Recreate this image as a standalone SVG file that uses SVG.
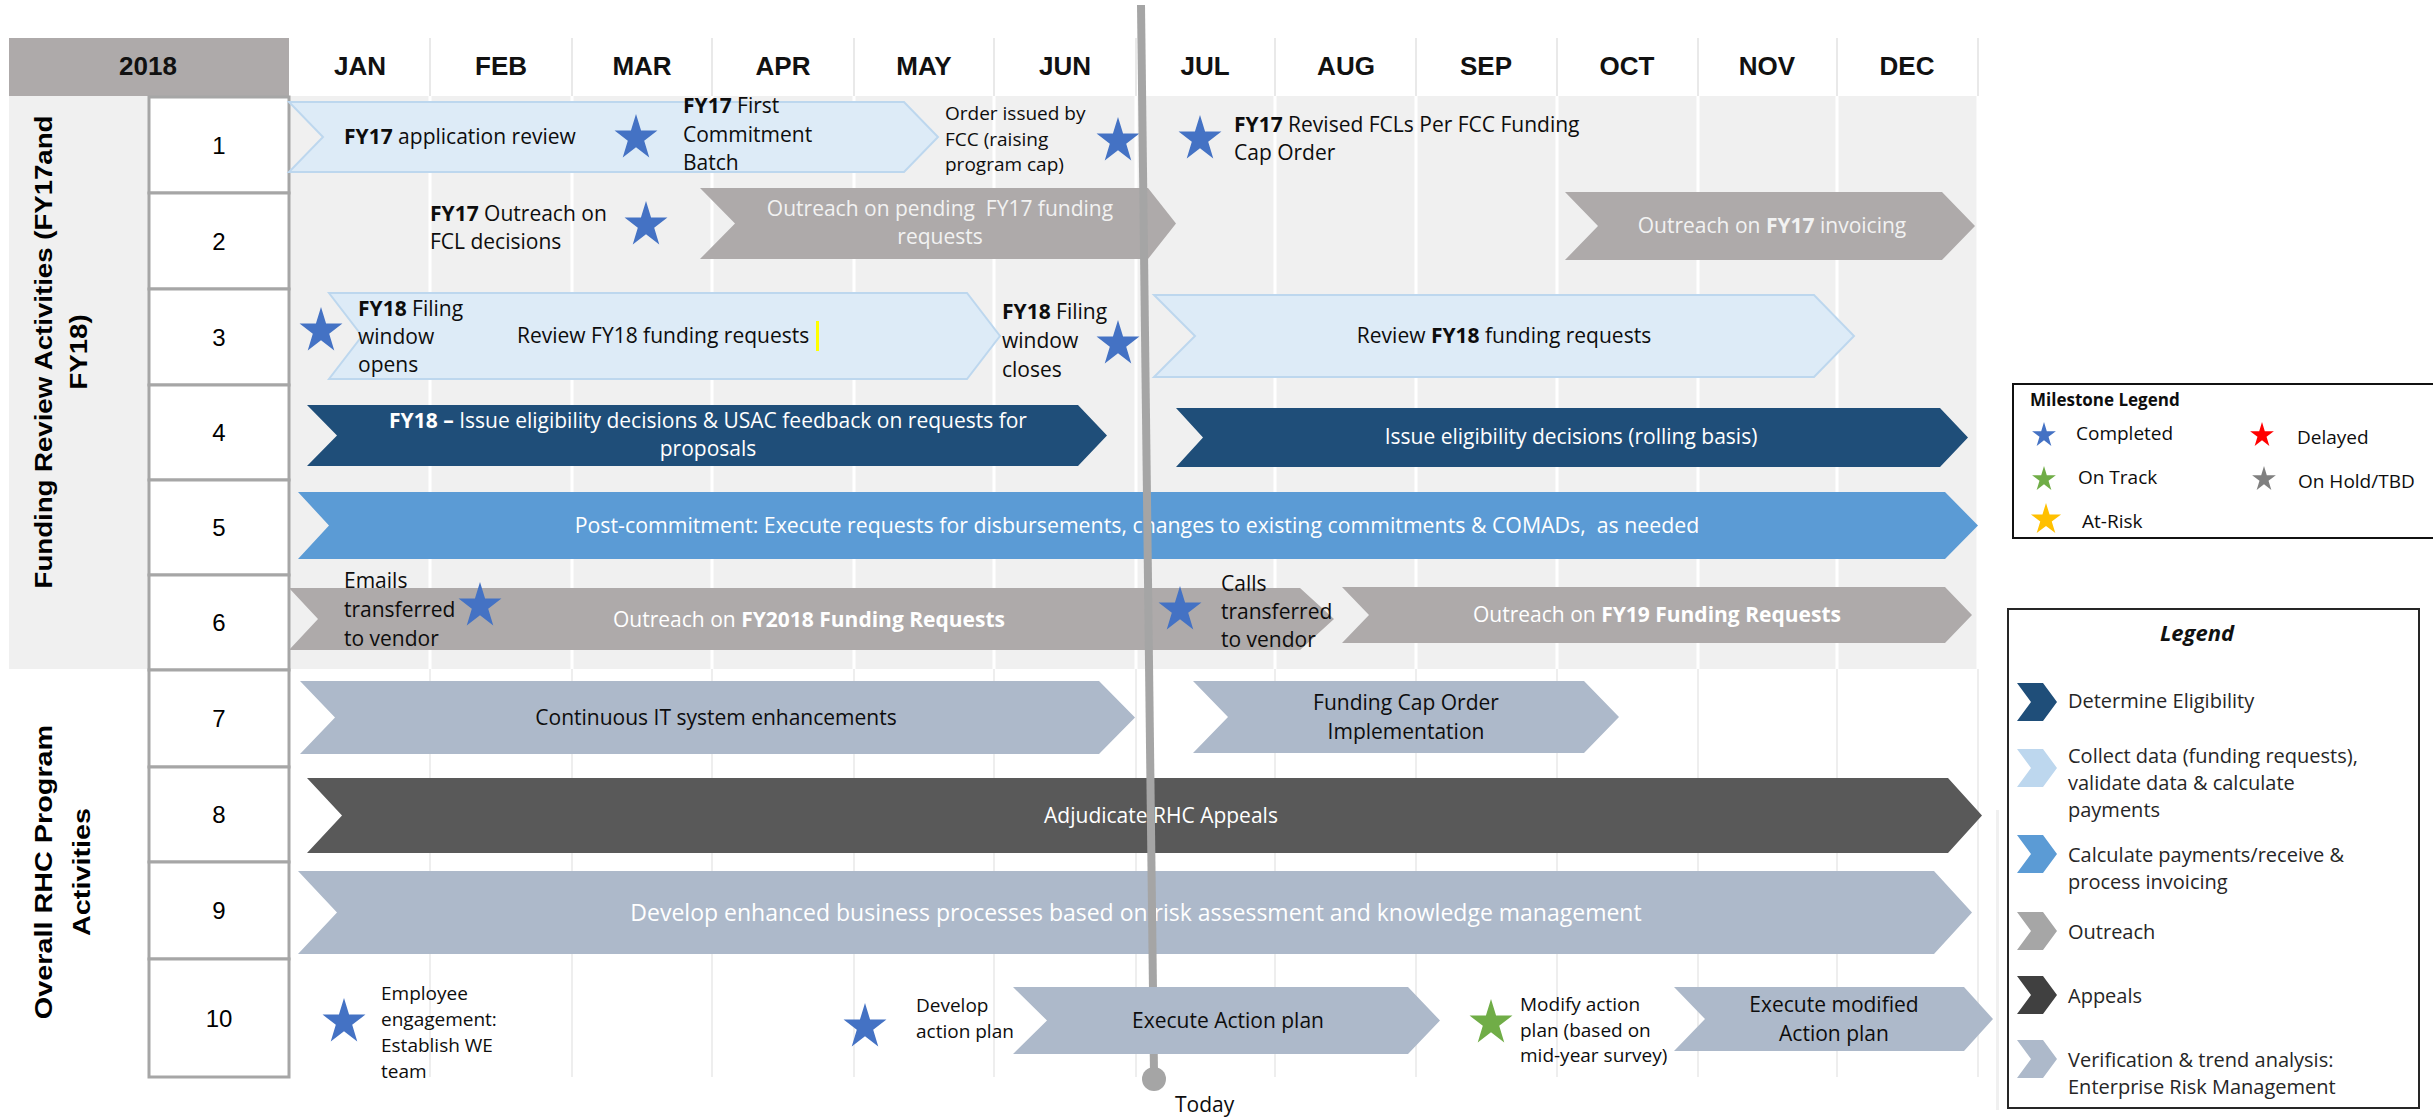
<svg xmlns="http://www.w3.org/2000/svg" xmlns:xlink="http://www.w3.org/1999/xlink" width="2433" height="1120" viewBox="0 0 2433 1120">
  <defs>
    <style>
      .t { font-family: "Open Sans", "Liberation Sans", sans-serif; font-size: 21px; fill: #0d0d0d; }
      .s19 { font-size: 19px; }
      .b { font-weight: 700; }
      .w { fill: #ffffff; }
      .lg { fill: #f2f2f2; }
      .mid { text-anchor: middle; }
      .hdr { font-family: "Liberation Sans", Arial, sans-serif; font-weight: 700; font-size: 26px; fill: #111111; text-anchor: middle; }
      .num { font-family: "Liberation Sans", Arial, sans-serif; font-size: 24px; fill: #000000; text-anchor: middle; }
      .side { font-family: "Liberation Sans", Arial, sans-serif; font-weight: 700; font-size: 24px; fill: #000000; text-anchor: middle; }
      .rowbox { fill: #ffffff; stroke: #a6a6a6; stroke-width: 3; }
      .lightblue { fill: #ddebf7; stroke: #bdd7ee; stroke-width: 2; }
      .outreach { fill: #aeaaaa; }
      .elig { fill: #1f4e79; }
      .pay { fill: #5b9bd5; }
      .verif { fill: #adb9ca; }
      .appeal { fill: #595959; }
      .star-done { fill: #4472c4; }
      .lt { font-family: "Open Sans", "Liberation Sans", sans-serif; font-size: 20px; fill: #262626; }
    </style>
    <!-- five-point milestone star, outer radius 24 -->
    <path id="star" d="M0,-24 L5.39,-7.42 L22.83,-7.42 L8.72,2.83 L14.11,19.42 L0,9.17 L-14.11,19.42 L-8.72,2.83 L-22.83,-7.42 L-5.39,-7.42 Z"/>
    <!-- small chevron used in the legend -->
    <path id="lchev" d="M0,0 L26,0 L40,19 L26,38 L0,38 L14,19 Z"/>
  </defs>

  <rect x="0" y="0" width="2433" height="1120" fill="#ffffff"/>

  <!-- grid backgrounds -->
  <g id="grid">
    <rect x="9" y="96" width="141" height="573" fill="#f0f0f0"/>
    <rect x="289" y="96" width="1689" height="573" fill="#f0f0f0"/>
    <g stroke="#e9e9e9" stroke-width="2">
      <line x1="430" y1="38" x2="430" y2="96"/><line x1="572" y1="38" x2="572" y2="96"/>
      <line x1="712" y1="38" x2="712" y2="96"/><line x1="854" y1="38" x2="854" y2="96"/>
      <line x1="994" y1="38" x2="994" y2="96"/><line x1="1136" y1="38" x2="1136" y2="96"/>
      <line x1="1275" y1="38" x2="1275" y2="96"/><line x1="1416" y1="38" x2="1416" y2="96"/>
      <line x1="1557" y1="38" x2="1557" y2="96"/><line x1="1698" y1="38" x2="1698" y2="96"/>
      <line x1="1837" y1="38" x2="1837" y2="96"/><line x1="1978" y1="38" x2="1978" y2="96"/>
    </g>
    <g stroke="#ffffff" stroke-width="3">
      <line x1="430" y1="96" x2="430" y2="669"/><line x1="572" y1="96" x2="572" y2="669"/>
      <line x1="712" y1="96" x2="712" y2="669"/><line x1="854" y1="96" x2="854" y2="669"/>
      <line x1="994" y1="96" x2="994" y2="669"/><line x1="1136" y1="96" x2="1136" y2="669"/>
      <line x1="1275" y1="96" x2="1275" y2="669"/><line x1="1416" y1="96" x2="1416" y2="669"/>
      <line x1="1557" y1="96" x2="1557" y2="669"/><line x1="1698" y1="96" x2="1698" y2="669"/>
      <line x1="1837" y1="96" x2="1837" y2="669"/><line x1="1978" y1="96" x2="1978" y2="669"/>
    </g>
    <g stroke="#eeeeee" stroke-width="2">
      <line x1="430" y1="669" x2="430" y2="1077"/><line x1="572" y1="669" x2="572" y2="1077"/>
      <line x1="712" y1="669" x2="712" y2="1077"/><line x1="854" y1="669" x2="854" y2="1077"/>
      <line x1="994" y1="669" x2="994" y2="1077"/><line x1="1136" y1="669" x2="1136" y2="1077"/>
      <line x1="1275" y1="669" x2="1275" y2="1077"/><line x1="1416" y1="669" x2="1416" y2="1077"/>
      <line x1="1557" y1="669" x2="1557" y2="1077"/><line x1="1698" y1="669" x2="1698" y2="1077"/>
      <line x1="1837" y1="669" x2="1837" y2="1077"/><line x1="1978" y1="669" x2="1978" y2="1077"/>
    </g>
    <rect x="1996" y="810" width="3" height="300" fill="#f0f0f0"/>
  </g>

  <!-- month header -->
  <g id="header">
    <rect x="9" y="38" width="280" height="58" fill="#aeaaaa"/>
    <text class="hdr" x="148" y="75">2018</text>
    <text class="hdr" x="360" y="75">JAN</text>
    <text class="hdr" x="501" y="75">FEB</text>
    <text class="hdr" x="642" y="75">MAR</text>
    <text class="hdr" x="783" y="75">APR</text>
    <text class="hdr" x="924" y="75">MAY</text>
    <text class="hdr" x="1065" y="75">JUN</text>
    <text class="hdr" x="1205" y="75">JUL</text>
    <text class="hdr" x="1346" y="75">AUG</text>
    <text class="hdr" x="1486" y="75">SEP</text>
    <text class="hdr" x="1627" y="75">OCT</text>
    <text class="hdr" x="1767" y="75">NOV</text>
    <text class="hdr" x="1907" y="75">DEC</text>
  </g>

  <!-- section labels -->
  <g id="section-funding-review">
    <text class="side" transform="translate(52,352) rotate(-90) scale(1.15,1)">Funding Review Activities (FY17and</text>
    <text class="side" transform="translate(87,352) rotate(-90) scale(1.15,1)">FY18)</text>
  </g>
  <g id="section-program">
    <text class="side" transform="translate(52,872) rotate(-90) scale(1.2,1)">Overall RHC Program</text>
    <text class="side" transform="translate(90,872) rotate(-90) scale(1.2,1)">Activities</text>
  </g>

  <!-- row number boxes -->
  <g id="row-numbers">
    <rect class="rowbox" x="149" y="97" width="140" height="96"/>
    <rect class="rowbox" x="149" y="193" width="140" height="96"/>
    <rect class="rowbox" x="149" y="289" width="140" height="96"/>
    <rect class="rowbox" x="149" y="385" width="140" height="95"/>
    <rect class="rowbox" x="149" y="480" width="140" height="95"/>
    <rect class="rowbox" x="149" y="575" width="140" height="95"/>
    <rect class="rowbox" x="149" y="670" width="140" height="97"/>
    <rect class="rowbox" x="149" y="767" width="140" height="95"/>
    <rect class="rowbox" x="149" y="862" width="140" height="97"/>
    <rect class="rowbox" x="149" y="959" width="140" height="118"/>
    <text class="num" x="219" y="154">1</text>
    <text class="num" x="219" y="250">2</text>
    <text class="num" x="219" y="346">3</text>
    <text class="num" x="219" y="441">4</text>
    <text class="num" x="219" y="536">5</text>
    <text class="num" x="219" y="631">6</text>
    <text class="num" x="219" y="727">7</text>
    <text class="num" x="219" y="823">8</text>
    <text class="num" x="219" y="919">9</text>
    <text class="num" x="219" y="1027">10</text>
  </g>

  <!-- row 1 -->
  <g id="r1-app-review">
    <polygon class="lightblue" points="289,102 904,102 938,137 904,172 289,172 323,137"/>
    <text class="t" x="344" y="144"><tspan class="b">FY17</tspan> application review</text>
  </g>
  <g id="r1-m-first-commitment">
    <use href="#star" class="star-done" transform="translate(636,138) scale(0.94,1)"/>
    <text class="t" x="683" y="113"><tspan class="b">FY17</tspan> First<tspan x="683" dy="28.5">Commitment</tspan><tspan x="683" dy="28.5">Batch</tspan></text>
  </g>
  <g id="r1-m-order-issued">
    <text class="t s19" x="945" y="120">Order issued by<tspan x="945" dy="25.5">FCC (raising</tspan><tspan x="945" dy="25.5">program cap)</tspan></text>
    <use href="#star" class="star-done" transform="translate(1118,141) scale(0.94,1)"/>
  </g>
  <g id="r1-m-revised-fcl">
    <use href="#star" class="star-done" transform="translate(1200,139) scale(0.94,1)"/>
    <text class="t" x="1234" y="132"><tspan class="b">FY17</tspan> Revised FCLs Per FCC Funding<tspan x="1234" dy="28">Cap Order</tspan></text>
  </g>

  <!-- row 2 -->
  <g id="r2-m-outreach-fcl">
    <text class="t" x="430" y="221"><tspan class="b">FY17</tspan> Outreach on<tspan x="430" dy="28">FCL decisions</tspan></text>
    <use href="#star" class="star-done" transform="translate(646,225) scale(0.94,1)"/>
  </g>
  <g id="r2-outreach-pending">
    <polygon class="outreach" points="700,188 1148,188 1176,223.5 1148,259 700,259 735,223.5"/>
    <text class="t lg mid" x="940" y="216" xml:space="preserve">Outreach on pending  FY17 funding<tspan x="940" dy="27.5">requests</tspan></text>
  </g>
  <g id="r2-outreach-invoicing">
    <polygon class="outreach" points="1565,192 1942,192 1975,226 1942,260 1565,260 1598,226"/>
    <text class="t lg mid" x="1772" y="233">Outreach on <tspan class="b">FY17</tspan> invoicing</text>
  </g>

  <!-- row 3 -->
  <g id="r3-review-a">
    <polygon class="lightblue" points="329,293 967,293 1000,336 967,379 329,379 362,336"/>
    <text class="t" x="517" y="343">Review FY18 funding requests</text>
    <rect x="816" y="321" width="3" height="30" fill="#ffff00"/>
  </g>
  <g id="r3-m-window-opens">
    <use href="#star" class="star-done" transform="translate(321,331) scale(0.94,1)"/>
    <text class="t" x="358" y="316"><tspan class="b">FY18</tspan> Filing<tspan x="358" dy="28">window</tspan><tspan x="358" dy="28">opens</tspan></text>
  </g>
  <g id="r3-m-window-closes">
    <text class="t" x="1002" y="319"><tspan class="b">FY18</tspan> Filing<tspan x="1002" dy="29">window</tspan><tspan x="1002" dy="29">closes</tspan></text>
    <use href="#star" class="star-done" transform="translate(1118,344) scale(0.94,1)"/>
  </g>
  <g id="r3-review-b">
    <polygon class="lightblue" points="1154,295 1814,295 1854,336 1814,377 1154,377 1195,336"/>
    <text class="t mid" x="1504" y="343">Review <tspan class="b">FY18</tspan> funding requests</text>
  </g>

  <!-- row 4 -->
  <g id="r4-eligibility-a">
    <polygon class="elig" points="307,405 1078,405 1107,435.5 1078,466 307,466 337,435.5"/>
    <text class="t w mid" x="708" y="428"><tspan class="b">FY18 –</tspan> Issue eligibility decisions &amp; USAC feedback on requests for<tspan x="708" dy="28">proposals</tspan></text>
  </g>
  <g id="r4-eligibility-b">
    <polygon class="elig" points="1176,408 1940,408 1968,437.5 1940,467 1176,467 1203,437.5"/>
    <text class="t w mid" x="1571" y="444">Issue eligibility decisions (rolling basis)</text>
  </g>

  <!-- row 5 -->
  <g id="r5-post-commitment">
    <polygon class="pay" points="298,492 1945,492 1978,525.5 1945,559 298,559 329,525.5"/>
    <text class="t w mid" x="1137" y="533" style="font-size:21.3px" xml:space="preserve">Post-commitment: Execute requests for disbursements, changes to existing commitments &amp; COMADs,  as needed</text>
  </g>

  <!-- row 6 -->
  <g id="r6-outreach-fy2018">
    <polygon class="outreach" points="289,588 1300,588 1334,619 1300,650 289,650 318,619"/>
    <text class="t w mid" x="809" y="627">Outreach on <tspan class="b">FY2018 Funding Requests</tspan></text>
  </g>
  <g id="r6-m-emails">
    <text class="t" x="344" y="588">Emails<tspan x="344" dy="29">transferred</tspan><tspan x="344" dy="29">to vendor</tspan></text>
    <use href="#star" class="star-done" transform="translate(480,606) scale(0.94,1)"/>
  </g>
  <g id="r6-outreach-fy19">
    <polygon class="outreach" points="1342,587 1945,587 1972,615 1945,643 1342,643 1369,615"/>
    <text class="t w mid" x="1657" y="622">Outreach on <tspan class="b">FY19 Funding Requests</tspan></text>
  </g>
  <g id="r6-m-calls">
    <use href="#star" class="star-done" transform="translate(1180,610) scale(0.94,1)"/>
    <text class="t" x="1221" y="591">Calls<tspan x="1221" dy="28">transferred</tspan><tspan x="1221" dy="28">to vendor</tspan></text>
  </g>

  <!-- row 7 -->
  <g id="r7-it-enhancements">
    <polygon class="verif" points="300,681 1099,681 1135,717.5 1099,754 300,754 335,717.5"/>
    <text class="t mid" x="716" y="725">Continuous IT system enhancements</text>
  </g>
  <g id="r7-cap-order">
    <polygon class="verif" points="1193,681 1584,681 1619,717 1584,753 1193,753 1228,717"/>
    <text class="t mid" x="1406" y="710">Funding Cap Order<tspan x="1406" dy="29">Implementation</tspan></text>
  </g>

  <!-- row 8 -->
  <g id="r8-appeals">
    <polygon class="appeal" points="307,778 1948,778 1982,815.5 1948,853 307,853 342,815.5"/>
    <text class="t w mid" x="1161" y="823">Adjudicate RHC Appeals</text>
  </g>

  <!-- row 9 -->
  <g id="r9-business-processes">
    <polygon class="verif" points="298,871 1934,871 1972,912.5 1934,954 298,954 337,912.5"/>
    <text class="t w mid" x="1136" y="921" style="font-size:23px">Develop enhanced business processes based on risk assessment and knowledge management</text>
  </g>

  <!-- today marker -->
  <g id="today-marker">
    <line x1="1141" y1="5" x2="1154" y2="1074" stroke="#a5a5a5" stroke-width="8"/>
    <circle cx="1154" cy="1079" r="12" fill="#a5a5a5"/>
    <text class="t" x="1175" y="1112">Today</text>
  </g>

  <!-- row 10 -->
  <g id="r10-m-employee-engagement">
    <use href="#star" class="star-done" transform="translate(344,1022) scale(0.94,1)"/>
    <text class="t s19" x="381" y="1000">Employee<tspan x="381" dy="26">engagement:</tspan><tspan x="381" dy="26">Establish WE</tspan><tspan x="381" dy="26">team</tspan></text>
  </g>
  <g id="r10-m-develop-plan">
    <use href="#star" class="star-done" transform="translate(865,1027) scale(0.94,1)"/>
    <text class="t s19" x="916" y="1012">Develop<tspan x="916" dy="26">action plan</tspan></text>
  </g>
  <g id="r10-execute-plan">
    <polygon class="verif" points="1013,987 1408,987 1440,1020.5 1408,1054 1013,1054 1047,1020.5"/>
    <text class="t mid" x="1228" y="1028">Execute Action plan</text>
  </g>
  <g id="r10-m-modify-plan">
    <use href="#star" fill="#70ad47" transform="translate(1491,1023) scale(0.94,1)"/>
    <text class="t s19" x="1520" y="1011">Modify action<tspan x="1520" dy="25.5">plan (based on</tspan><tspan x="1520" dy="25.5">mid-year survey)</tspan></text>
  </g>
  <g id="r10-execute-modified">
    <polygon class="verif" points="1674,987 1964,987 1993,1019 1964,1051 1674,1051 1705,1019"/>
    <text class="t mid" x="1834" y="1012">Execute modified<tspan x="1834" dy="28.5">Action plan</tspan></text>
  </g>

  <!-- milestone legend -->
  <g id="milestone-legend">
    <rect x="2013" y="384" width="440" height="154" fill="#ffffff" stroke="#111111" stroke-width="2"/>
    <text class="t b" x="2030" y="406" style="font-size:17px">Milestone Legend</text>
    <use href="#star" fill="#4472c4" transform="translate(2044,435.3) scale(0.52,0.55)"/>
    <text class="t s19" x="2076" y="440">Completed</text>
    <use href="#star" fill="#ff0000" transform="translate(2262,435.3) scale(0.52,0.55)"/>
    <text class="t s19" x="2297" y="444">Delayed</text>
    <use href="#star" fill="#70ad47" transform="translate(2044,479.3) scale(0.52,0.55)"/>
    <text class="t s19" x="2078" y="484">On Track</text>
    <use href="#star" fill="#808080" transform="translate(2264,479.3) scale(0.52,0.55)"/>
    <text class="t s19" x="2298" y="488">On Hold/TBD</text>
    <use href="#star" fill="#ffc000" transform="translate(2046,519.6) scale(0.66,0.69)"/>
    <text class="t s19" x="2082" y="528">At-Risk</text>
  </g>

  <!-- activity type legend -->
  <g id="type-legend">
    <rect x="2008" y="609" width="411" height="499" fill="#ffffff" stroke="#262626" stroke-width="2"/>
    <text class="lt b mid" x="2197" y="641" style="font-style:italic;font-size:22px;fill:#111111">Legend</text>
    <use href="#lchev" fill="#1f4e79" transform="translate(2017,683)"/>
    <text class="lt" x="2068" y="708">Determine Eligibility</text>
    <use href="#lchev" fill="#bdd7ee" transform="translate(2017,749)"/>
    <text class="lt" x="2068" y="763">Collect data (funding requests),<tspan x="2068" dy="27">validate data &amp; calculate</tspan><tspan x="2068" dy="27">payments</tspan></text>
    <use href="#lchev" fill="#5b9bd5" transform="translate(2017,835)"/>
    <text class="lt" x="2068" y="862">Calculate payments/receive &amp;<tspan x="2068" dy="27">process invoicing</tspan></text>
    <use href="#lchev" fill="#a6a6a6" transform="translate(2017,912)"/>
    <text class="lt" x="2068" y="939">Outreach</text>
    <use href="#lchev" fill="#404040" transform="translate(2017,976)"/>
    <text class="lt" x="2068" y="1003">Appeals</text>
    <use href="#lchev" fill="#adb9ca" transform="translate(2017,1040)"/>
    <text class="lt" x="2068" y="1067">Verification &amp; trend analysis:<tspan x="2068" dy="27">Enterprise Risk Management</tspan></text>
  </g>
</svg>
